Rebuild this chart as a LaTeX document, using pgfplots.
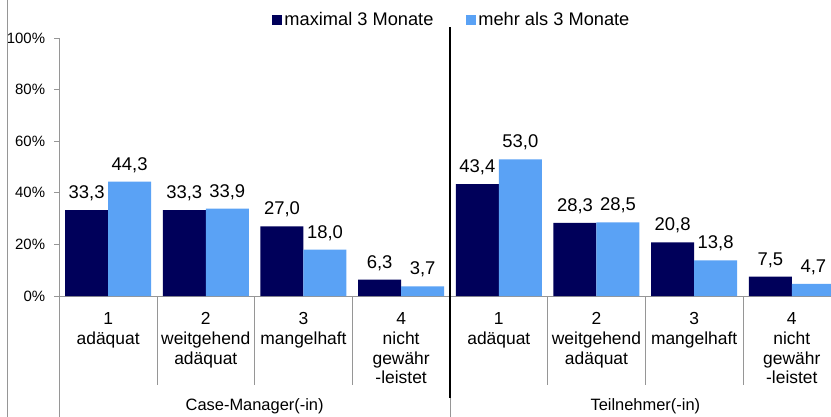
\documentclass[border=0pt]{standalone}
\usepackage{pgfplots}
\pgfplotsset{compat=1.18}
\usepackage{fontspec}
\setmainfont{Liberation Sans}
\definecolor{darkbar}{RGB}{0,0,90}
\definecolor{lightbar}{RGB}{90,162,245}
\definecolor{axgray}{RGB}{150,150,150}
\begin{document}
\begin{tikzpicture}
\path[use as bounding box] (-59.3bp,-121bp) rectangle (771.7bp,296bp);
\begin{axis}[
  at={(0,0)}, anchor=origin,
  x=97.67bp, y=2.58bp,
  xmin=0, xmax=7.9, ymin=0, ymax=100,
  clip=false,
  axis x line*=bottom, axis y line*=left,
  axis line style={axgray, line width=0.8bp, -},
  ybar=0pt, bar width=43bp,
  ytick={0,20,...,100},
  yticklabel={\pgfmathprintnumber{\tick}\%},
  yticklabel style={font=\fontsize{15}{17}\selectfont, inner sep=0pt, anchor=east, xshift=-9bp},
  ytick style={axgray, line width=0.8bp},
  tick align=outside,
  major tick length=5bp,
  xtick={0.5,1.5,...,7.5},
  xticklabels={{1\\adäquat},{2\\weitgehend\\adäquat},{3\\mangelhaft},{4\\nicht\\gewähr\\-leistet},{1\\adäquat},{2\\weitgehend\\adäquat},{3\\mangelhaft},{4\\nicht\\gewähr\\-leistet}},
  xtick style={draw=none},
  xticklabel style={font=\fontsize{17.5}{20}\selectfont, align=center, anchor=north, inner sep=0pt, yshift=-11bp},
  nodes near coords={\pgfmathprintnumber[fixed,fixed zerofill,precision=1,use comma]{\pgfplotspointmeta}},
  every node near coord/.append style={font=\fontsize{18.5}{20}\selectfont, anchor=base, yshift=11.5bp, inner sep=0pt, black},
  /pgf/number format/assume math mode=true,
  legend style={at={(axis cs:4.02,107)}, anchor=center, draw=none, fill=none, legend columns=2, font=\fontsize{18.3}{20}\selectfont, /tikz/every even column/.append style={column sep=31bp}},
  legend cell align=left,
  legend image code/.code={\fill[#1] (0bp,-5bp) rectangle (10bp,5bp);},
]
\addplot[fill=darkbar, draw=none] coordinates {(0.5,33.3)(1.5,33.3)(2.5,27.0)(3.5,6.3)(4.5,43.4)(5.5,28.3)(6.5,20.8)(7.5,7.5)};
\addlegendentry{maximal 3 Monate}
\addplot[fill=lightbar, draw=none] coordinates {(0.5,44.3)(1.5,33.9)(2.5,18.0)(3.5,3.7)(4.5,53.0)(5.5,28.5)(6.5,13.8)(7.5,4.7)};
\addlegendentry{mehr als 3 Monate}
\draw[axgray, line width=0.8bp] (axis cs:1,0) -- (axis cs:1,-34.5);
\draw[axgray, line width=0.8bp] (axis cs:2,0) -- (axis cs:2,-34.5);
\draw[axgray, line width=0.8bp] (axis cs:3,0) -- (axis cs:3,-34.5);
\draw[axgray, line width=0.8bp] (axis cs:5,0) -- (axis cs:5,-34.5);
\draw[axgray, line width=0.8bp] (axis cs:6,0) -- (axis cs:6,-34.5);
\draw[axgray, line width=0.8bp] (axis cs:7,0) -- (axis cs:7,-34.5);
\draw[axgray, line width=0.8bp] (axis cs:0,0) -- (axis cs:0,-47);
\draw[axgray, line width=0.8bp] (axis cs:4,0) -- (axis cs:4,-47);
\draw[black, line width=1.5bp] (axis cs:4,-39.5) -- (axis cs:4,104.3);
\draw[axgray, line width=0.8bp] (axis cs:-0.5355,-47) -- (axis cs:-0.5355,115);
\node[font=\fontsize{16.5}{20}\selectfont] at (axis cs:2,-42.6) {Case-Manager(-in)};
\node[font=\fontsize{16.5}{20}\selectfont] at (axis cs:6,-42.6) {Teilnehmer(-in)};
\end{axis}
\end{tikzpicture}
\end{document}
